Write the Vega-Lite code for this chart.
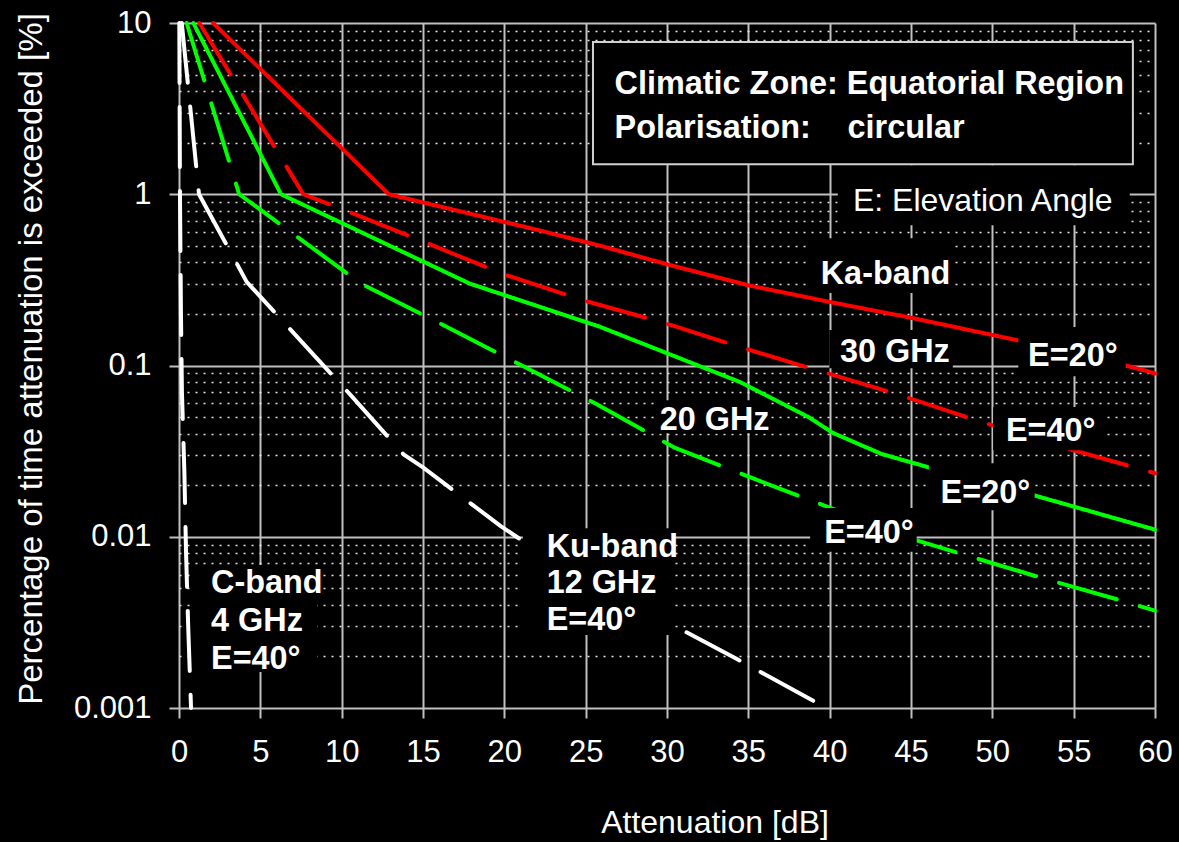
{
  "$schema": "https://vega.github.io/schema/vega-lite/v6.json",
  "width": 976,
  "height": 685,
  "autosize": {"type": "none"},
  "padding": {"left": 179, "top": 23, "right": 24, "bottom": 134},
  "background": "#000000",
  "config": {
    "font": "Liberation Sans",
    "view": {"stroke": null},
    "axis": {
      "labelColor": "#ffffff",
      "titleColor": "#ffffff",
      "labelFont": "Liberation Sans",
      "titleFont": "Liberation Sans",
      "labelFontSize": 31,
      "titleFontSize": 32,
      "titleFontWeight": "normal",
      "domain": false,
      "tickColor": "#c0c0c0",
      "tickSize": 10,
      "tickWidth": 2,
      "gridColor": "#c0c0c0",
      "gridWidth": 2,
      "gridOpacity": 1,
      "labelFlush": false,
      "labelOverlap": false
    }
  },
  "encoding": {
    "x": {
      "field": "x",
      "type": "quantitative",
      "scale": {"domain": [0, 60], "nice": false, "zero": false},
      "axis": {
        "title": "Attenuation [dB]",
        "values": [0, 5, 10, 15, 20, 25, 30, 35, 40, 45, 50, 55, 60],
        "grid": true,
        "labelPadding": 19,
        "titleX": 535.5,
        "titleY": 124,
        "titleAlign": "center",
        "titleBaseline": "alphabetic",
        "titleAnchor": null
      }
    },
    "y": {
      "field": "y",
      "type": "quantitative",
      "scale": {"type": "log", "domain": [0.001, 10], "nice": false},
      "axis": {
        "title": "Percentage of time attenuation is exceeded [%]",
        "values": [0.001, 0.002, 0.003, 0.004, 0.005, 0.006, 0.007, 0.008, 0.009, 0.01, 0.02, 0.03, 0.04, 0.05, 0.06, 0.07, 0.08, 0.09, 0.1, 0.2, 0.3, 0.4, 0.5, 0.6, 0.7, 0.8, 0.9, 1, 2, 3, 4, 5, 6, 7, 8, 9, 10],
        "format": "~g",
        "labelExpr": "indexof([10,1,0.1,0.01,0.001], datum.value) >= 0 ? datum.label : ''",
        "grid": true,
        "gridDash": {"condition": {"test": "indexof([10,1,0.1,0.01,0.001], datum.value) < 0", "value": [2, 6]}, "value": []},
        "gridColor": {"condition": {"test": "indexof([10,1,0.1,0.01,0.001], datum.value) < 0", "value": "#e6e6e6"}, "value": "#c0c0c0"},
        "gridWidth": {"condition": {"test": "indexof([10,1,0.1,0.01,0.001], datum.value) < 0", "value": 1.5}, "value": 2},
        "tickOpacity": {"condition": {"test": "indexof([10,1,0.1,0.01,0.001], datum.value) < 0", "value": 0}, "value": 1},
        "labelPadding": 18,
        "titleFontSize": 33,
        "titleAngle": -90,
        "titleX": -138,
        "titleY": 335.5,
        "titleAlign": "center",
        "titleBaseline": "alphabetic",
        "titleAnchor": null
      }
    }
  },
  "layer": [
    {
      "data": {
        "values": [
          {"band": "Ka-band 30 GHz", "elev": "E=20°", "x": 2.1, "y": 10},
          {"band": "Ka-band 30 GHz", "elev": "E=20°", "x": 12.9, "y": 1},
          {"band": "Ka-band 30 GHz", "elev": "E=20°", "x": 22, "y": 0.62},
          {"band": "Ka-band 30 GHz", "elev": "E=20°", "x": 25.9, "y": 0.5},
          {"band": "Ka-band 30 GHz", "elev": "E=20°", "x": 30, "y": 0.39},
          {"band": "Ka-band 30 GHz", "elev": "E=20°", "x": 35, "y": 0.294},
          {"band": "Ka-band 30 GHz", "elev": "E=20°", "x": 40, "y": 0.235},
          {"band": "Ka-band 30 GHz", "elev": "E=20°", "x": 45, "y": 0.19},
          {"band": "Ka-band 30 GHz", "elev": "E=20°", "x": 51.6, "y": 0.14},
          {"band": "Ka-band 30 GHz", "elev": "E=20°", "x": 58.2, "y": 0.1},
          {"band": "Ka-band 30 GHz", "elev": "E=20°", "x": 60, "y": 0.09},

          {"band": "Ka-band 30 GHz", "elev": "E=40°", "x": 1.25, "y": 10},
          {"band": "Ka-band 30 GHz", "elev": "E=40°", "x": 7.64, "y": 1},
          {"band": "Ka-band 30 GHz", "elev": "E=40°", "x": 10.45, "y": 0.79},
          {"band": "Ka-band 30 GHz", "elev": "E=40°", "x": 15.2, "y": 0.52},
          {"band": "Ka-band 30 GHz", "elev": "E=40°", "x": 20, "y": 0.34},
          {"band": "Ka-band 30 GHz", "elev": "E=40°", "x": 24.85, "y": 0.24},
          {"band": "Ka-band 30 GHz", "elev": "E=40°", "x": 29.6, "y": 0.18},
          {"band": "Ka-band 30 GHz", "elev": "E=40°", "x": 34.5, "y": 0.128},
          {"band": "Ka-band 30 GHz", "elev": "E=40°", "x": 39.2, "y": 0.094},
          {"band": "Ka-band 30 GHz", "elev": "E=40°", "x": 44, "y": 0.0687},
          {"band": "Ka-band 30 GHz", "elev": "E=40°", "x": 48.8, "y": 0.0486},
          {"band": "Ka-band 30 GHz", "elev": "E=40°", "x": 54, "y": 0.034},
          {"band": "Ka-band 30 GHz", "elev": "E=40°", "x": 60, "y": 0.0235},

          {"band": "20 GHz", "elev": "E=20°", "x": 0.88, "y": 10},
          {"band": "20 GHz", "elev": "E=20°", "x": 6.27, "y": 1},
          {"band": "20 GHz", "elev": "E=20°", "x": 17.9, "y": 0.3},
          {"band": "20 GHz", "elev": "E=20°", "x": 25.9, "y": 0.168},
          {"band": "20 GHz", "elev": "E=20°", "x": 30.6, "y": 0.112},
          {"band": "20 GHz", "elev": "E=20°", "x": 34.5, "y": 0.08},
          {"band": "20 GHz", "elev": "E=20°", "x": 38.7, "y": 0.05},
          {"band": "20 GHz", "elev": "E=20°", "x": 40.2, "y": 0.0404},
          {"band": "20 GHz", "elev": "E=20°", "x": 43.2, "y": 0.0304},
          {"band": "20 GHz", "elev": "E=20°", "x": 46.1, "y": 0.0254},
          {"band": "20 GHz", "elev": "E=20°", "x": 52.7, "y": 0.0173},
          {"band": "20 GHz", "elev": "E=20°", "x": 60, "y": 0.011},

          {"band": "20 GHz", "elev": "E=40°", "x": 0.47, "y": 10},
          {"band": "20 GHz", "elev": "E=40°", "x": 3.7, "y": 1},
          {"band": "20 GHz", "elev": "E=40°", "x": 6.45, "y": 0.644},
          {"band": "20 GHz", "elev": "E=40°", "x": 11.2, "y": 0.3},
          {"band": "20 GHz", "elev": "E=40°", "x": 16, "y": 0.177},
          {"band": "20 GHz", "elev": "E=40°", "x": 20.9, "y": 0.102},
          {"band": "20 GHz", "elev": "E=40°", "x": 25.6, "y": 0.06},
          {"band": "20 GHz", "elev": "E=40°", "x": 30.5, "y": 0.033},
          {"band": "20 GHz", "elev": "E=40°", "x": 35.3, "y": 0.0219},
          {"band": "20 GHz", "elev": "E=40°", "x": 40, "y": 0.0148},
          {"band": "20 GHz", "elev": "E=40°", "x": 45.4, "y": 0.0095},
          {"band": "20 GHz", "elev": "E=40°", "x": 48, "y": 0.008},
          {"band": "20 GHz", "elev": "E=40°", "x": 52.9, "y": 0.0058},
          {"band": "20 GHz", "elev": "E=40°", "x": 57.7, "y": 0.0043},
          {"band": "20 GHz", "elev": "E=40°", "x": 60, "y": 0.0037},

          {"band": "Ku-band 12 GHz", "elev": "E=40°", "x": 0.17, "y": 10},
          {"band": "Ku-band 12 GHz", "elev": "E=40°", "x": 1.23, "y": 1},
          {"band": "Ku-band 12 GHz", "elev": "E=40°", "x": 2.72, "y": 0.55},
          {"band": "Ku-band 12 GHz", "elev": "E=40°", "x": 4.16, "y": 0.308},
          {"band": "Ku-band 12 GHz", "elev": "E=40°", "x": 6.1, "y": 0.194},
          {"band": "Ku-band 12 GHz", "elev": "E=40°", "x": 10.5, "y": 0.068},
          {"band": "Ku-band 12 GHz", "elev": "E=40°", "x": 13.8, "y": 0.0303},
          {"band": "Ku-band 12 GHz", "elev": "E=40°", "x": 15, "y": 0.0254},
          {"band": "Ku-band 12 GHz", "elev": "E=40°", "x": 19.8, "y": 0.0115},
          {"band": "Ku-band 12 GHz", "elev": "E=40°", "x": 22.1, "y": 0.0082},
          {"band": "Ku-band 12 GHz", "elev": "E=40°", "x": 30.5, "y": 0.003},
          {"band": "Ku-band 12 GHz", "elev": "E=40°", "x": 34.3, "y": 0.00193},
          {"band": "Ku-band 12 GHz", "elev": "E=40°", "x": 39, "y": 0.0011},

          {"band": "C-band 4 GHz", "elev": "E=40°", "x": 0.02, "y": 10},
          {"band": "C-band 4 GHz", "elev": "E=40°", "x": 0.06, "y": 1},
          {"band": "C-band 4 GHz", "elev": "E=40°", "x": 0.12, "y": 0.2},
          {"band": "C-band 4 GHz", "elev": "E=40°", "x": 0.18, "y": 0.07},
          {"band": "C-band 4 GHz", "elev": "E=40°", "x": 0.33, "y": 0.024},
          {"band": "C-band 4 GHz", "elev": "E=40°", "x": 0.43, "y": 0.0083},
          {"band": "C-band 4 GHz", "elev": "E=40°", "x": 0.57, "y": 0.0029},
          {"band": "C-band 4 GHz", "elev": "E=40°", "x": 0.74, "y": 0.001}
        ]
      },
      "mark": {"type": "line", "strokeWidth": 4, "strokeCap": "round", "strokeJoin": "round"},
      "encoding": {
        "color": {
          "field": "band",
          "type": "nominal",
          "scale": {"domain": ["Ka-band 30 GHz", "20 GHz", "Ku-band 12 GHz", "C-band 4 GHz"], "range": ["#ff0000", "#00ff00", "#ffffff", "#ffffff"]},
          "legend": null
        },
        "strokeDash": {
          "field": "elev",
          "type": "nominal",
          "scale": {"domain": ["E=20°", "E=40°"], "range": [[1, 0], [60, 24]]},
          "legend": null
        }
      }
    },
    {
      "data": {
        "values": [
          {"x": 38.8, "x2": 47.57, "y": 0.553, "y2": 0.265},
          {"x": 39.98, "x2": 47.57, "y": 0.161, "y2": 0.0964},
          {"x": 51.6, "x2": 58.2, "y": 0.168, "y2": 0.0865},
          {"x": 50.05, "x2": 56.8, "y": 0.0573, "y2": 0.032},
          {"x": 29.3, "x2": 36.4, "y": 0.0627, "y2": 0.0402},
          {"x": 46.1, "x2": 52.6, "y": 0.0269, "y2": 0.0143},
          {"x": 38.8, "x2": 45.35, "y": 0.0147, "y2": 0.00816},
          {"x": 21.14, "x2": 30.4, "y": 0.0112, "y2": 0.00267},
          {"x": 0.86, "x2": 8.5, "y": 0.00683, "y2": 0.00162},
          {"x": 40.5, "x2": 58.45, "y": 1.476, "y2": 0.659}
        ]
      },
      "mark": {"type": "rect", "color": "#000000"},
      "encoding": {
        "x2": {"field": "x2"},
        "y2": {"field": "y2"}
      }
    },
    {
      "data": {"values": [{"x": 25.45, "x2": 58.64, "y": 7.75, "y2": 1.496}]},
      "mark": {"type": "rect", "fill": "#000000", "stroke": "#d0d0d0", "strokeWidth": 2},
      "encoding": {
        "x2": {"field": "x2"},
        "y2": {"field": "y2"}
      }
    },
    {
      "data": {
        "values": [
          {"label": "Climatic Zone: Equatorial Region", "x": 26.78, "y": 3.87},
          {"label": "Polarisation:", "x": 26.78, "y": 2.13},
          {"label": "circular", "x": 41.1, "y": 2.13},
          {"label": "Ka-band", "x": 39.45, "y": 0.301},
          {"label": "30 GHz", "x": 40.63, "y": 0.105},
          {"label": "E=20°", "x": 52.2, "y": 0.099},
          {"label": "E=40°", "x": 50.84, "y": 0.0364},
          {"label": "20 GHz", "x": 29.55, "y": 0.0419},
          {"label": "E=20°", "x": 46.82, "y": 0.0158},
          {"label": "E=40°", "x": 39.66, "y": 0.00914},
          {"label": "Ku-band", "x": 22.6, "y": 0.00763},
          {"label": "12 GHz", "x": 22.6, "y": 0.00467},
          {"label": "E=40°", "x": 22.6, "y": 0.00285},
          {"label": "C-band", "x": 1.97, "y": 0.00467},
          {"label": "4 GHz", "x": 1.97, "y": 0.00282},
          {"label": "E=40°", "x": 1.97, "y": 0.0017}
        ]
      },
      "mark": {"type": "text", "align": "left", "baseline": "alphabetic", "font": "Liberation Sans", "fontSize": 32.4, "fontWeight": "bold", "color": "#ffffff"},
      "encoding": {"text": {"field": "label"}}
    },
    {
      "data": {"values": [{"label": "E: Elevation Angle", "x": 41.43, "y": 0.799}]},
      "mark": {"type": "text", "align": "left", "baseline": "alphabetic", "font": "Liberation Sans", "fontSize": 32, "fontWeight": "normal", "color": "#ffffff"},
      "encoding": {"text": {"field": "label"}}
    }
  ]
}
